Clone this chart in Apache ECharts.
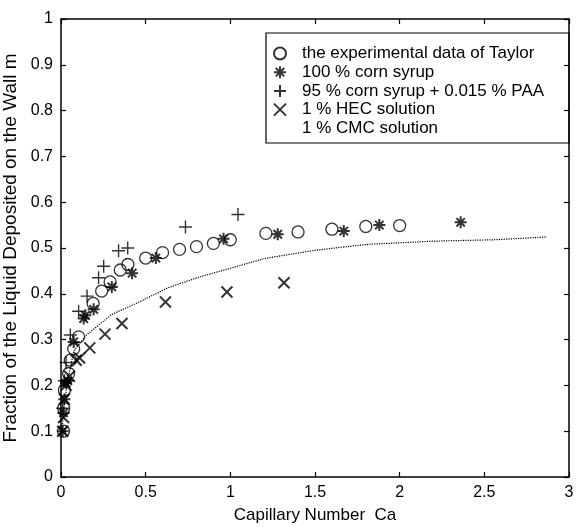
<!DOCTYPE html>
<html>
<head>
  <meta charset="UTF-8">
  <title>Fraction of liquid deposited vs capillary number</title>
  <style>
    * { margin: 0; padding: 0; }
    body { background: #fff; }
    #chart { width: 577px; height: 527px; }
  </style>
  <script src="https://cdn.jsdelivr.net/npm/echarts@6/dist/echarts.min.js"></script>
</head>
<body>
  <div id="chart"></div>
  <script>
    // data
    const seriesNames = [
      'the experimental data of Taylor',
      '100 % corn syrup',
      '95 % corn syrup + 0.015 % PAA',
      '1 % HEC solution',
      '1 % CMC solution'
    ];
    const taylorX = [0.015, 0.016, 0.02, 0.045, 0.055, 0.075, 0.104, 0.19, 0.24, 0.29, 0.35, 0.395, 0.50, 0.60, 0.70, 0.80, 0.90, 1.0, 1.21, 1.40, 1.60, 1.80, 2.0];
    const taylorY = [0.10, 0.15, 0.19, 0.226, 0.255, 0.28, 0.306, 0.379, 0.406, 0.426, 0.452, 0.464, 0.478, 0.49, 0.497, 0.503, 0.51, 0.518, 0.532, 0.535, 0.541, 0.547, 0.549];
    const syrupX = [0.01, 0.015, 0.02, 0.03, 0.04, 0.075, 0.134, 0.144, 0.193, 0.30, 0.42, 0.56, 0.96, 1.28, 1.67, 1.88, 2.36];
    const syrupY = [0.10, 0.14, 0.17, 0.205, 0.21, 0.295, 0.346, 0.353, 0.366, 0.415, 0.445, 0.478, 0.52, 0.53, 0.537, 0.55, 0.556];
    const paaX = [0.01, 0.02, 0.03, 0.055, 0.104, 0.154, 0.222, 0.252, 0.34, 0.394, 0.735, 1.045];
    const paaY = [0.15, 0.21, 0.25, 0.31, 0.362, 0.395, 0.435, 0.46, 0.494, 0.50, 0.546, 0.573];
    const hecX = [0.01, 0.015, 0.02, 0.03, 0.05, 0.09, 0.11, 0.17, 0.26, 0.36, 0.617, 0.98, 1.317];
    const hecY = [0.10, 0.13, 0.17, 0.20, 0.22, 0.255, 0.26, 0.282, 0.312, 0.335, 0.382, 0.404, 0.424];
    const cmcX = [0.005, 0.02, 0.04, 0.075, 0.15, 0.3, 0.45, 0.63, 0.82, 1.06, 1.2, 1.5, 1.81, 2.2, 2.56, 2.87];
    const cmcY = [0.10, 0.16, 0.21, 0.275, 0.31, 0.355, 0.38, 0.413, 0.437, 0.462, 0.477, 0.495, 0.508, 0.515, 0.518, 0.524];

    const pts = (xs, ys) => xs.map((x, i) => [x, ys[i]]);

    const plusPath = 'path://M0,5L10,5M5,0L5,10';
    const crossPath = 'path://M0,0L10,10M0,10L10,0';
    const starPath = 'path://M5,0L5,10M0,5L10,5M1.5,1.5L8.5,8.5M1.5,8.5L8.5,1.5';

    const font = 'Liberation Sans, Arial, sans-serif';
    const chart = echarts.init(document.getElementById('chart'));

    const axisCommon = {
      type: 'value',
      axisLine: { show: true, onZero: false, lineStyle: { color: '#000', width: 1.5 } },
      axisTick: { show: true, inside: true, length: 5, lineStyle: { color: '#000', width: 1.2 } },
      splitLine: { show: false }
    };

    chart.setOption({
      animation: false,
      textStyle: { fontFamily: font, color: '#000' },
      grid: { left: 61, right: 8, top: 19, bottom: 50, outerBoundsMode: 'none', containLabel: false },
      legend: {
        orient: 'vertical',
        left: 263,
        top: 40,
        itemWidth: 24,
        itemHeight: 12,
        itemGap: 1.7,
        textStyle: { fontFamily: font, fontSize: 17, color: '#000', padding: [0, 0, 0, 5] },
        data: [
          { name: seriesNames[0] },
          { name: seriesNames[1] },
          { name: seriesNames[2] },
          { name: seriesNames[3] },
          { name: seriesNames[4], icon: 'none' }
        ]
      },
      graphic: [{
        type: 'rect',
        shape: { x: 266, y: 33, width: 303, height: 110 },
        style: { fill: 'none', stroke: '#000', lineWidth: 1.2 },
        z: 1
      }],
      xAxis: [
        Object.assign({}, axisCommon, {
          min: 0, max: 3, interval: 0.5,
          name: 'Capillary Number  Ca',
          nameLocation: 'middle',
          nameGap: 30,
          nameTextStyle: { fontSize: 17, color: '#000' },
          axisLabel: { fontSize: 16, color: '#000', margin: 8 }
        }),
        Object.assign({}, axisCommon, {
          min: 0, max: 3, interval: 0.5, position: 'top',
          axisLabel: { show: false }
        })
      ],
      yAxis: [
        Object.assign({}, axisCommon, {
          min: 0, max: 1, interval: 0.1,
          name: 'Fraction of the Liquid Deposited on the Wall m',
          nameLocation: 'middle',
          nameGap: 41,
          nameTextStyle: { fontSize: 19, color: '#000' },
          axisLabel: { fontSize: 16, color: '#000', margin: 8,
            formatter: v => (v === 0 || v === 1) ? String(v) : v.toFixed(1) }
        }),
        Object.assign({}, axisCommon, {
          min: 0, max: 1, interval: 0.1, position: 'right',
          axisLabel: { show: false }
        })
      ],
      series: [
        {
          name: seriesNames[0], type: 'scatter', data: pts(taylorX, taylorY),
          symbol: 'circle', symbolSize: 12,
          itemStyle: { color: 'none', borderColor: '#000', borderWidth: 1.3 }
        },
        {
          name: seriesNames[1], type: 'scatter', data: pts(syrupX, syrupY),
          symbol: starPath, symbolSize: 12,
          itemStyle: { color: 'none', borderColor: '#000', borderWidth: 2 }
        },
        {
          name: seriesNames[2], type: 'scatter', data: pts(paaX, paaY),
          symbol: plusPath, symbolSize: 13,
          itemStyle: { color: 'none', borderColor: '#000', borderWidth: 1.4 }
        },
        {
          name: seriesNames[3], type: 'scatter', data: pts(hecX, hecY),
          symbol: crossPath, symbolSize: 11,
          itemStyle: { color: 'none', borderColor: '#000', borderWidth: 2 }
        },
        {
          name: seriesNames[4], type: 'line', data: pts(cmcX, cmcY),
          showSymbol: false, symbol: 'none',
          lineStyle: { color: '#000', width: 1.2, type: 'dotted' },
          itemStyle: { color: '#000' }
        }
      ]
    });
  </script>
</body>
</html>
